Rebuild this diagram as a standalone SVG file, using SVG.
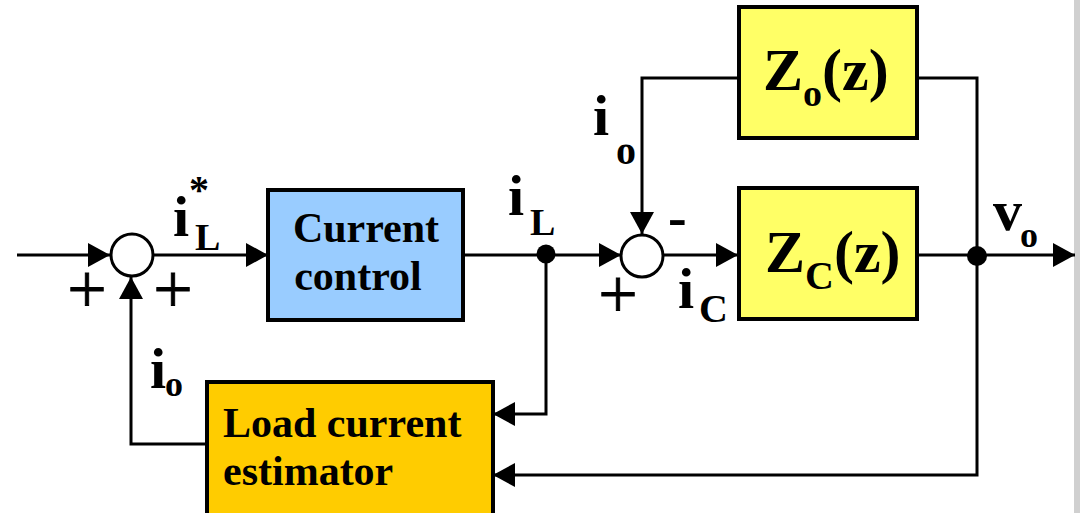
<svg xmlns="http://www.w3.org/2000/svg" width="1080" height="513" viewBox="0 0 1080 513">
<style>
.ln{fill:none;stroke:#000;stroke-width:3}
.bx{stroke:#000;stroke-width:4}
.t{font-family:"Liberation Serif","Times New Roman",serif;font-weight:bold;fill:#000}
.p{font-family:"Liberation Serif","Times New Roman",serif;font-size:70px;fill:#000;text-anchor:middle;stroke:#000;stroke-width:0.8}
</style>
<defs>
<marker id="ah" viewBox="0 0 22 24" refX="22" refY="12" markerWidth="22" markerHeight="24" markerUnits="userSpaceOnUse" orient="auto">
<path d="M0,0 L22,12 L0,24 Z" fill="#000"/>
</marker>
</defs>
<rect x="0" y="0" width="1080" height="513" fill="#fff"/>
<rect x="1074" y="0" width="6" height="513" fill="#d0d0d0"/>

<g id="connectors">
<line class="ln" x1="17" y1="255" x2="110" y2="255" marker-end="url(#ah)"/>
<line class="ln" x1="154" y1="255" x2="268" y2="255" marker-end="url(#ah)"/>
<line class="ln" x1="463" y1="255" x2="621" y2="255" marker-end="url(#ah)"/>
<line class="ln" x1="663" y1="255" x2="738" y2="255" marker-end="url(#ah)"/>
<line class="ln" x1="917" y1="255" x2="1075" y2="255" marker-end="url(#ah)"/>
<polyline class="ln" points="739,78 642,78 642,234" marker-end="url(#ah)"/>
<polyline class="ln" points="917,78 977,78 977,475 493,475" marker-end="url(#ah)"/>
<polyline class="ln" points="546,255 546,414 493,414" marker-end="url(#ah)"/>
<polyline class="ln" points="207,444 131,444 131,277" marker-end="url(#ah)"/>
<circle cx="546" cy="254" r="9.5" fill="#000"/>
<circle cx="977" cy="256" r="10" fill="#000"/>
</g>

<g id="sum1">
<circle cx="132" cy="255" r="21" fill="#fff" stroke="#000" stroke-width="3"/>
</g>
<g id="sum2">
<circle cx="642" cy="256" r="21" fill="#fff" stroke="#000" stroke-width="3"/>
</g>

<g id="current-control">
<rect class="bx" x="268" y="190" width="195" height="130" fill="#99CCFF"/>
<text class="t" x="366" y="242" font-size="42" text-anchor="middle">Current</text>
<text class="t" x="358" y="290" font-size="42" text-anchor="middle">control</text>
</g>

<g id="zo">
<rect class="bx" x="739" y="7" width="178" height="131" fill="#FFFF66"/>
<text class="t" x="763" y="90" font-size="60">Z<tspan font-size="38" dy="16">o</tspan><tspan font-size="60" dy="-16">(z)</tspan></text>
</g>

<g id="zc">
<rect class="bx" x="739" y="188" width="178" height="131" fill="#FFFF66"/>
<text class="t" x="765" y="272" font-size="60">Z<tspan font-size="40" dy="17">C</tspan><tspan font-size="60" dy="-17">(z)</tspan></text>
</g>

<g id="estimator">
<rect class="bx" x="207" y="382" width="286" height="140" fill="#FFCC00"/>
<text class="t" x="223" y="437" font-size="42">Load current</text>
<text class="t" x="223" y="485" font-size="42">estimator</text>
</g>

<g id="labels">
<text class="t" x="173" y="236" font-size="58">i</text>
<text class="t" x="195" y="250" font-size="38">L</text>
<text class="t" x="189" y="203" font-size="40">*</text>
<text class="t" x="508" y="215" font-size="58">i</text>
<text class="t" x="530" y="235" font-size="38">L</text>
<text class="t" x="593" y="135" font-size="58">i</text>
<text class="t" x="616" y="164" font-size="40">o</text>
<text class="t" x="678" y="308" font-size="58">i</text>
<text class="t" x="699" y="322" font-size="40">C</text>
<text class="t" x="993" y="230" font-size="58">v</text>
<text class="t" x="1020" y="247" font-size="36">o</text>
<text class="t" x="150" y="388" font-size="58">i</text>
<text class="t" x="165" y="396" font-size="36">o</text>
<text class="t" x="668" y="236" font-size="56">-</text>
<text class="p" x="87" y="313">+</text>
<text class="p" x="173" y="313">+</text>
<text class="p" x="618" y="318">+</text>
</g>
</svg>
